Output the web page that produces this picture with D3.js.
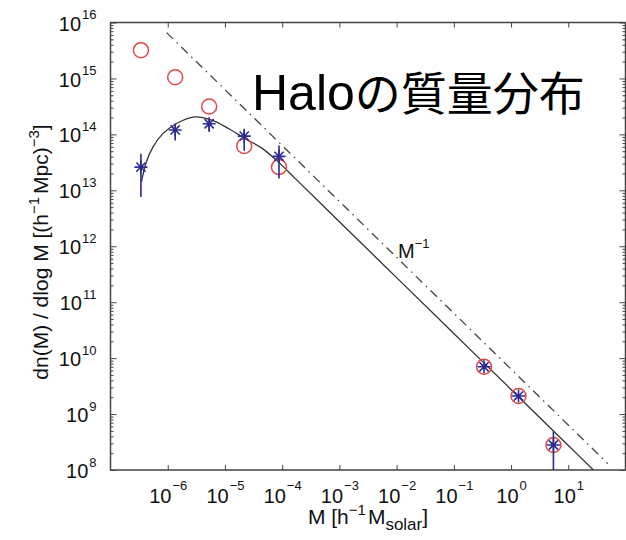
<!DOCTYPE html>
<html><head><meta charset="utf-8">
<script src="https://cdn.jsdelivr.net/npm/d3@7"></script>
<style>
body{margin:0;background:#fff}
svg{display:block}
text{font-family:"Liberation Sans",Arial,sans-serif;fill:#111}
</style>
</head><body>
<svg id="c" width="626" height="540"></svg>
<script>
// ---- data ----
const starM  = [3.4e-7, 1.35e-6, 5.3e-6, 2.17e-5, 8.8e-5, 0.337, 1.35, 5.5];
const starN  = [2.6e13, 1.2e14, 1.55e14, 9.3e13, 4.05e13, 7.0e9, 2.1e9, 2.8e8];
const errHi  = [4.5e13, 1.4e14, 1.8e14, 1.26e14, 6.3e13, 7.0e9, 2.1e9, 4.9e8];
const errLo  = [7.6e12, 7.8e13, 1.1e14, 5.1e13, 1.62e13, 7.0e9, 2.1e9, 3e7];
const circM  = [3.4e-7, 1.35e-6, 5.3e-6, 2.17e-5, 8.8e-5, 0.337, 1.35, 5.5];
const circN  = [3.2e15, 1.05e15, 3.15e14, 6.2e13, 2.6e13, 7.0e9, 2.1e9, 2.8e8];
const curveM = [3.47e-7, 4.23e-7, 5.51e-7, 8.22e-7, 1.41e-6, 2.74e-6, 6.03e-6, 1.17e-5, 2.29e-5, 4.47e-5, 8.71e-5, 1.70e-4, 1e-3, 1e-2, 0.1, 1, 10, 27.5];
const curveN = [1.41e13, 3.2e13, 5.93e13, 1.03e14, 1.55e14, 2.04e14, 1.78e14, 1.26e14, 8.32e13, 5.62e13, 3.16e13, 1.62e13, 2.75e12, 2.75e11, 2.75e10, 2.75e9, 2.75e8, 1e8];
const refM   = [9.55e-7, 49];
const refN   = [6.6e15, 1.3e8];
const xTickExps = [-6, -5, -4, -3, -2, -1, 0, 1];
const yTickExps = [8, 9, 10, 11, 12, 13, 14, 15, 16];
const refLabel = "M";
const refLabelExp = "\u22121";
const titleLatin = "Halo";
const titleCJK = "の質量分布";

// ---- layout ----
const svg = d3.select("#c");
const L = 110.5, R = 625.5, T = 22.5, B = 470;
const x = d3.scaleLog().domain([1e-7, 1e2]).range([L, R]);
const y = d3.scaleLog().domain([1e8, 1e16]).range([B, T]);
const axisCol = "#444";
const fmtExp = e => (e < 0 ? "\u2212" + (-e) : String(e));

svg.append("defs").append("clipPath").attr("id", "clip")
  .append("rect").attr("x", L).attr("y", T).attr("width", R - L).attr("height", B - T);

// ---- axes ----
const yMajor = yTickExps.map(e => Math.pow(10, e));
const xMajor = xTickExps.map(e => Math.pow(10, e));
const yMinor = [];
for (let e = 8; e < 16; e++) for (let k = 2; k <= 9; k++) yMinor.push(k * Math.pow(10, e));

function styleAxis(g) {
  g.select(".domain").remove();
  g.selectAll(".tick line").attr("stroke", axisCol).attr("stroke-width", 1);
}
// left major with labels
const gL = svg.append("g").attr("transform", `translate(${L},0)`)
  .call(d3.axisLeft(y).tickValues(yMajor).tickSize(-6).tickPadding(14).tickFormat(() => ""))
  .call(styleAxis);
gL.selectAll(".tick text").each(function(d) {
  const t = d3.select(this).attr("dy", null).attr("font-size", 20).attr("text-anchor", "end").style("fill", "#111");
  t.text(null);
  t.append("tspan").attr("dy", 7.6).text("10");
  t.append("tspan").attr("dy", -11.5).attr("font-size", 13).attr("dx", 1).text(fmtExp(Math.round(Math.log10(d))));
});
svg.append("g").attr("transform", `translate(${L},0)`)
  .call(d3.axisLeft(y).tickValues(yMinor).tickSize(-3).tickFormat(() => "")).call(styleAxis);
// right
svg.append("g").attr("transform", `translate(${R},0)`)
  .call(d3.axisRight(y).tickValues(yMajor).tickSize(-6).tickFormat(() => "")).call(styleAxis);
svg.append("g").attr("transform", `translate(${R},0)`)
  .call(d3.axisRight(y).tickValues(yMinor).tickSize(-3).tickFormat(() => "")).call(styleAxis);
// bottom with labels
const gB = svg.append("g").attr("transform", `translate(0,${B})`)
  .call(d3.axisBottom(x).tickValues(xMajor).tickSize(-5).tickPadding(0).tickFormat(() => ""))
  .call(styleAxis);
gB.selectAll(".tick text").each(function(d) {
  const t = d3.select(this).attr("dy", null).attr("y", 33).attr("font-size", 20).attr("text-anchor", "middle").style("fill", "#111");
  t.text(null);
  t.append("tspan").text("10");
  t.append("tspan").attr("dy", -13).attr("dx", 1).attr("font-size", 13).text(fmtExp(Math.round(Math.log10(d))));
});
// top
svg.append("g").attr("transform", `translate(0,${T})`)
  .call(d3.axisTop(x).tickValues(xMajor).tickSize(-5).tickFormat(() => "")).call(styleAxis);

// frame
svg.append("rect").attr("x", L).attr("y", T).attr("width", R - L).attr("height", B - T)
  .attr("fill", "none").attr("stroke", axisCol).attr("stroke-width", 1.5);

// ---- plot contents ----
const plot = svg.append("g").attr("clip-path", "url(#clip)");

const lineGen = d3.line().x(d => x(d[0])).y(d => y(d[1]));
// reference M^-1 dash-dot
plot.append("path").datum(refM.map((m, i) => [m, refN[i]]))
  .attr("d", lineGen).attr("fill", "none").attr("stroke", "#444").attr("stroke-width", 1.3)
  .attr("stroke-dasharray", "9,5,1.5,5");
// model curve
plot.append("path").datum(curveM.map((m, i) => [m, curveN[i]]))
  .attr("d", lineGen.curve(d3.curveCatmullRom.alpha(0.5))).attr("fill", "none")
  .attr("stroke", "#333").attr("stroke-width", 1.3);

// red circles
plot.selectAll("circle.c").data(circM.map((m, i) => [m, circN[i]])).join("circle")
  .attr("class", "c").attr("cx", d => x(d[0])).attr("cy", d => y(d[1])).attr("r", 7.5)
  .attr("fill", "none").attr("stroke", "#e0474c").attr("stroke-width", 1.5);

// error bars
const blue = "#2b2b90";
plot.selectAll("line.err").data(starM.map((m, i) => [m, errLo[i], errHi[i]])).join("line")
  .attr("class", "err").attr("x1", d => x(d[0])).attr("x2", d => x(d[0]))
  .attr("y1", d => y(d[1])).attr("y2", d => y(d[2]))
  .attr("stroke", blue).attr("stroke-width", 1.6);

// asterisk markers
const r = 6.5, dd = r * 0.7071;
const starPath = `M${-r},0L${r},0M0,${-r}L0,${r}M${-dd},${-dd}L${dd},${dd}M${-dd},${dd}L${dd},${-dd}`;
plot.selectAll("path.star").data(starM.map((m, i) => [m, starN[i]])).join("path")
  .attr("class", "star").attr("transform", d => `translate(${x(d[0])},${y(d[1])})`)
  .attr("d", starPath).attr("fill", "none").attr("stroke", blue).attr("stroke-width", 1.6);

// ---- texts ----
svg.append("text").attr("x", 398).attr("y", 258).attr("font-size", 20)
  .call(t => { t.append("tspan").text(refLabel); t.append("tspan").attr("dy", -10).attr("font-size", 13).text(refLabelExp); });

const title = svg.append("text").attr("x", 252).attr("y", 110).style("fill", "#000");
title.append("tspan").attr("font-size", 50).text(titleLatin);
title.append("tspan").attr("font-size", 46).style("font-family", "'Noto Sans CJK JP','Noto Sans CJK SC',sans-serif").text(titleCJK);

// x axis label
const xl = svg.append("text").attr("x", 368).attr("y", 524).attr("text-anchor", "middle").attr("font-size", 21);
xl.append("tspan").text("M [h");
xl.append("tspan").attr("dy", -9).attr("font-size", 15).text("\u22121");
xl.append("tspan").attr("dy", 9).attr("dx", 2).text("M");
xl.append("tspan").attr("dy", 6).attr("font-size", 17).text("solar");
xl.append("tspan").attr("dy", -6).text("]");

// y axis label
const yl = svg.append("text").attr("transform", "translate(48,252) rotate(-90)")
  .attr("text-anchor", "middle").attr("font-size", 21);
yl.append("tspan").text("dn(M) / dlog M [(h");
yl.append("tspan").attr("dy", -9).attr("font-size", 15).text("\u22121");
yl.append("tspan").attr("dy", 9).attr("dx", 3).text("Mpc)");
yl.append("tspan").attr("dy", -9).attr("font-size", 15).text("\u22123");
yl.append("tspan").attr("dy", 9).text("]");
</script>
</body></html>
